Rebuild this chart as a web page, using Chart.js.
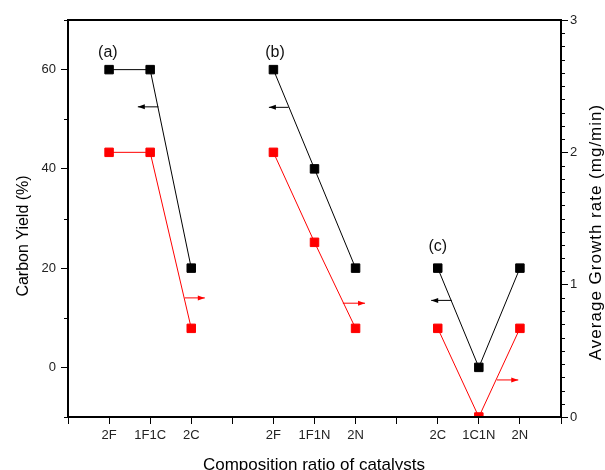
<!DOCTYPE html>
<html>
<head>
<meta charset="utf-8">
<script src="https://cdn.jsdelivr.net/npm/chart.js@4"></script>
<style>
  html, body { margin: 0; padding: 0; background: #fff; }
  #wrap { width: 605px; height: 470px; }
</style>
</head>
<body>
<div id="wrap"><canvas id="myChart" width="605" height="470"></canvas></div>
<script>
const labels = ['', '2F', '1F1C', '2C', '', '2F', '1F1N', '2N', '', '2C', '1C1N', '2N', ''];
const carbonYield = [null, 60, 60, 20, null, 60, 40, 20, null, 20, 0, 20, null];
const growthRate = [null, 2.0, 2.0, 0.67, null, 2.0, 1.32, 0.67, null, 0.67, 0, 0.67, null];

const yieldTicks = [0, 20, 40, 60];
const rateTicks = [0, 1, 2, 3];

// arrows: [from x, to x, value]
const yieldArrows = [[2.2, 1.7, 52.5], [5.37, 4.89, 52.4], [9.34, 8.84, 13.5]];
const rateArrows = [[2.84, 3.33, 0.9], [6.69, 7.23, 0.86], [10.44, 10.96, 0.28]];

// panel letters: [text, x, yield value]
const panels = [['(a)', 0.97, 63.4], ['(b)', 5.04, 63.4], ['(c)', 9.0, 24.4]];

const FONT = 'Arial, "Liberation Sans", sans-serif';

function arrow(ctx, x0, x1, y, color) {
  ctx.strokeStyle = color;
  ctx.fillStyle = color;
  ctx.lineWidth = 1;
  ctx.beginPath();
  ctx.moveTo(x0, y);
  ctx.lineTo(x1, y);
  ctx.stroke();
  const dir = x1 > x0 ? 1 : -1;
  ctx.beginPath();
  ctx.moveTo(x1, y);
  ctx.lineTo(x1 - dir * 7, y - 2.5);
  ctx.lineTo(x1 - dir * 7, y + 2.5);
  ctx.closePath();
  ctx.fill();
}

const extras = {
  id: 'extras',
  afterDraw(chart) {
    const { ctx, chartArea: a, scales } = chart;
    const x = scales.x, y = scales.y, y1 = scales.y1;
    ctx.save();
    // top frame line
    ctx.strokeStyle = '#000';
    ctx.lineWidth = 2;
    ctx.beginPath();
    ctx.moveTo(a.left - 1, a.top);
    ctx.lineTo(a.right + 1, a.top);
    ctx.stroke();

    // minor ticks
    ctx.lineWidth = 1;
    for (let v = -10; v <= 70; v += 20) {
      const p = Math.round(y.getPixelForValue(v)) + 0.5;
      ctx.beginPath();
      ctx.moveTo(a.left - 4, p);
      ctx.lineTo(a.left, p);
      ctx.stroke();
    }
    for (let i = 1; i < 30; i++) {
      if (i % 10 === 0) continue;
      const p = Math.round(y1.getPixelForValue(i / 10)) + 0.5;
      ctx.beginPath();
      ctx.moveTo(a.right, p);
      ctx.lineTo(a.right + 4, p);
      ctx.stroke();
    }

    // arrows
    yieldArrows.forEach(([s, e, v]) => {
      arrow(ctx, x.getPixelForValue(s), x.getPixelForValue(e), y.getPixelForValue(v), '#000');
    });
    rateArrows.forEach(([s, e, v]) => {
      arrow(ctx, x.getPixelForValue(s), x.getPixelForValue(e), y1.getPixelForValue(v), '#ff0000');
    });

    // panel letters
    ctx.fillStyle = '#111';
    ctx.font = '16px ' + FONT;
    ctx.textAlign = 'center';
    ctx.textBaseline = 'middle';
    panels.forEach(([t, px, v]) => {
      ctx.fillText(t, x.getPixelForValue(px), y.getPixelForValue(v));
    });

    // axis titles
    ctx.fillStyle = '#000';
    ctx.font = '17px ' + FONT;
    ctx.textBaseline = 'alphabetic';
    ctx.fillText('Composition ratio of catalysts', 314, 470);
    ctx.textBaseline = 'middle';
    ctx.save();
    ctx.font = '16px ' + FONT;
    ctx.translate(24, 236);
    ctx.rotate(-Math.PI / 2);
    ctx.fillText('Carbon Yield (%)', 0, 0);
    ctx.restore();
    ctx.save();
    ctx.font = '17px ' + FONT;
    ctx.letterSpacing = '1px';
    ctx.translate(596, 232);
    ctx.rotate(-Math.PI / 2);
    ctx.fillText('Average Growth rate (mg/min)', 0, 0);
    ctx.restore();
    ctx.restore();
  }
};

const ctx = document.getElementById('myChart');
new Chart(ctx, {
  type: 'line',
  data: {
    labels: labels,
    datasets: [{
      label: 'Carbon Yield',
      data: carbonYield,
      yAxisID: 'y',
      borderColor: '#000',
      backgroundColor: '#000',
      borderWidth: 1,
      pointStyle: 'rect',
      pointRadius: 6,
      pointBorderWidth: 1,
      spanGaps: false,
      tension: 0
    }, {
      label: 'Average Growth rate',
      data: growthRate,
      yAxisID: 'y1',
      borderColor: '#ff0000',
      backgroundColor: '#ff0000',
      borderWidth: 1,
      pointStyle: 'rect',
      pointRadius: 6,
      pointBorderWidth: 1,
      spanGaps: false,
      tension: 0,
      clip: { left: 6, right: 6, top: 6, bottom: -1 }
    }]
  },
  options: {
    responsive: false,
    animation: false,
    layout: { padding: { top: 20, left: 0, right: 0, bottom: 0 }, autoPadding: false },
    plugins: { legend: { display: false }, tooltip: { enabled: false } },
    scales: {
      x: {
        type: 'category',
        offset: false,
        afterFit: s => { s.height = 53; },
        grid: { drawOnChartArea: false, drawTicks: true, tickLength: 7, color: '#000', lineWidth: 1 },
        border: { color: '#000', width: 2 },
        ticks: {
          autoSkip: false, maxRotation: 0, padding: 4,
          color: '#222', font: { family: FONT, size: 13 }
        }
      },
      y: {
        position: 'left',
        min: -10, max: 70,
        afterFit: s => { s.width = 68; },
        afterBuildTicks: s => { s.ticks = yieldTicks.map(v => ({ value: v })); },
        grid: { drawOnChartArea: false, drawTicks: true, tickLength: 7, color: '#000', lineWidth: 1 },
        border: { color: '#000', width: 2 },
        ticks: { padding: 5, color: '#222', font: { family: FONT, size: 13 } }
      },
      y1: {
        position: 'right',
        min: 0, max: 3,
        afterFit: s => { s.width = 44; },
        afterBuildTicks: s => { s.ticks = rateTicks.map(v => ({ value: v })); },
        grid: { drawOnChartArea: false, drawTicks: true, tickLength: 7, color: '#000', lineWidth: 1 },
        border: { color: '#000', width: 2 },
        ticks: { padding: 2, color: '#222', font: { family: FONT, size: 13 } }
      }
    }
  },
  plugins: [extras]
});
</script>
</body>
</html>
